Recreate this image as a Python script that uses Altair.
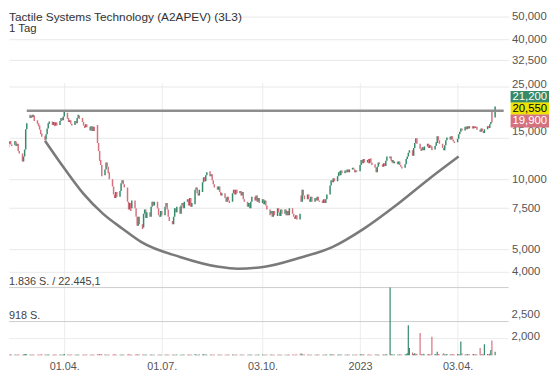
import altair as alt
import pandas as pd

title_text = "Tactile Systems Technology (A2APEV) (3L3)"
subtitle_text = "1 Tag"

# daily candles, business days 2022-02-07 .. 2023-05-08 (one row per week)
opens = [
    13000, 13700, 14200, 14600, 14100,
    14000, 14500, 13900, 14200, 13200,
    12900, 11900, 12500, 13400, 16400,
    18900, 18300, 18900, 18500, 18800,
    17900, 17400, 17000, 16300, 15700,
    15300, 14800, 15600, 16500, 17300,
    17700, 17100, 17600, 17000, 17500,
    17100, 17800, 18300, 17900, 18600,
    19300, 18300, 17600, 17900, 17300,
    17100, 17800, 17400, 18300, 18800,
    18300, 17600, 17000, 16700, 17200,
    16800, 16200, 16900, 16100, 16800,
    17100, 14300, 13200, 12100, 11500,
    10400, 11000, 11800, 11300, 10700,
    10000, 9300, 8600, 8300, 8800,
    8400, 8900, 9600, 9900, 9500,
    9200, 8000, 7400, 7900, 7500,
    8100, 7500, 6900, 6300, 6900,
    6400, 6200, 7100, 7400, 6800,
    7200, 6900, 7600, 8000, 7700,
    8000, 7500, 7000, 6900, 7300,
    7000, 7600, 7900, 7400, 6900,
    6600, 6400, 6900, 7500, 7200,
    7600, 7100, 7700, 7900, 7500,
    8000, 8200, 7700, 8300, 7600,
    7800, 9000, 9200, 8700, 8500,
    8800, 9700, 10200, 9800, 10400,
    10800, 10300, 10500, 9900, 9500,
    9300, 9000, 9300, 8800, 8500,
    8700, 8300, 8000, 8400, 8100,
    8000, 8700, 9000, 8600, 9000,
    8700, 8900, 8500, 8800, 8200,
    8000, 7600, 7900, 7500, 8000,
    8400, 8100, 8500, 8000, 8300,
    7900, 8200, 7800, 8100, 7700,
    7400, 7100, 7300, 6900, 7300,
    6950, 7500, 7200, 6950, 7400,
    7100, 7400, 7000, 7300, 7000,
    7500, 7100, 6900, 6750, 7000,
    6700, 8500, 8000, 9000, 8500,
    8200, 8600, 8200, 8000, 8400,
    8000, 8300, 8100, 8400, 8100,
    8100, 7900, 8200, 7900, 8200,
    8600, 9400, 9900, 9700, 10100,
    9800, 10300, 10800, 10400, 10900,
    10600, 10900, 10700, 11000, 10700,
    11000, 11200, 11000, 10700, 10900,
    10800, 11500, 12100, 11700, 12200,
    11800, 12200, 11700, 12300, 11800,
    11600, 11200, 10700, 11300, 11800,
    11600, 11300, 11700, 11400, 12000,
    12300, 12500, 11800, 12100, 11700,
    11900, 11600, 11900, 11500, 11300,
    11200, 11600, 12200, 12500, 13000,
    13300, 12600, 13600, 14300, 15000,
    14200, 13500, 13300, 13700, 13300,
    13800, 14200, 13600, 14000, 13800,
    13400, 13900, 14300, 15300, 14700,
    14200, 13600, 13300, 14000, 14700,
    15200, 14800, 15300, 14800, 14500,
    14400, 14900, 15600, 16000, 16500,
    16200, 16800, 16400, 16900, 16500,
    16900, 16500, 16900, 16600, 16800,
    16300, 16000, 16500, 16100, 15800,
    16400, 16900, 16600, 17200, 19700,
    18400,
]
closes = [
    13700, 14200, 14500, 14100, 13900,
    14600, 13900, 14200, 13200, 12900,
    11900, 12500, 13400, 16400, 17400,
    18300, 18800, 18400, 18900, 17800,
    17300, 16900, 16300, 15600, 15200,
    14700, 15600, 16500, 17400, 17700,
    17100, 17600, 16900, 17500, 17000,
    17800, 18300, 17900, 18600, 19700,
    18200, 17600, 17900, 17300, 17000,
    17800, 17400, 18300, 18900, 18200,
    17600, 17000, 16600, 17200, 16700,
    16200, 16900, 16100, 16800, 16100,
    14300, 13200, 12000, 11500, 10300,
    11000, 11800, 11300, 10600, 10000,
    9300, 8600, 8300, 8800, 8400,
    8900, 9600, 9900, 9500, 9200,
    8000, 7400, 7900, 7300, 8100,
    7500, 6900, 6300, 6900, 6400,
    6100, 7100, 7400, 6800, 7200,
    6900, 7600, 8000, 7700, 8000,
    7500, 7000, 6900, 7300, 7000,
    7600, 7900, 7400, 6900, 6600,
    6400, 6900, 7500, 7200, 7600,
    7100, 7700, 7900, 7500, 8000,
    8200, 7700, 8300, 7600, 7900,
    9000, 9200, 8700, 8500, 9000,
    9700, 10200, 9800, 10400, 10700,
    10300, 10500, 9900, 9500, 9200,
    9000, 9300, 8800, 8500, 8700,
    8300, 8000, 8400, 8100, 7900,
    8700, 9000, 8600, 9000, 8700,
    8900, 8500, 8800, 8200, 8000,
    7600, 7900, 7500, 8000, 8400,
    8100, 8500, 8000, 8300, 7900,
    8200, 7800, 8100, 7700, 7400,
    7000, 7300, 6900, 7300, 7000,
    7500, 7200, 6950, 7400, 7100,
    7400, 7000, 7300, 7000, 7500,
    7100, 6900, 6750, 7000, 6700,
    7100, 8000, 9000, 8500, 8200,
    8600, 8200, 8000, 8400, 8000,
    8300, 8100, 8400, 8100, 8000,
    7900, 8200, 7900, 8200, 8600,
    9400, 9900, 9700, 10100, 9800,
    10300, 10700, 10400, 10900, 10600,
    10900, 10700, 11000, 10700, 11000,
    11200, 11000, 10700, 10900, 10800,
    11500, 12100, 11700, 12200, 11800,
    12100, 11700, 12200, 11800, 11500,
    11200, 10700, 11300, 11800, 11600,
    11300, 11700, 11400, 12000, 12500,
    12500, 12000, 12100, 11700, 11900,
    11600, 11900, 11500, 11300, 11100,
    11600, 12200, 12500, 13000, 13300,
    12600, 13600, 14300, 15000, 14200,
    13500, 13200, 13700, 13300, 13800,
    14200, 13600, 14000, 13700, 13300,
    13900, 14400, 15300, 14700, 14200,
    13600, 13300, 14000, 14700, 15100,
    14800, 15300, 14800, 14500, 14300,
    14900, 15600, 16000, 16500, 16200,
    16800, 16400, 16900, 16500, 16900,
    16500, 16900, 16600, 16800, 16300,
    16000, 16500, 16100, 15800, 16400,
    16900, 16600, 17200, 17600, 17500,
    20550,
]
volumes = [
    25, 30, 20, 35, 25,   30, 20, 25, 30, 20,   25, 30, 35, 40, 30,
    30, 25, 30, 20, 25,   20, 30, 25, 30, 35,   30, 25, 20, 30, 25,
    25, 20, 30, 25, 20,   30, 25, 20, 30, 40,   30, 25, 20, 25, 30,
    20, 25, 30, 25, 20,   25, 30, 25, 20, 30,   20, 25, 30, 20, 25,
    35, 30, 40, 30, 35,   30, 25, 20, 30, 25,   25, 30, 35, 25, 20,
    20, 25, 30, 20, 25,   30, 35, 25, 30, 20,   25, 30, 35, 25, 30,
    30, 25, 20, 30, 25,   20, 30, 25, 20, 25,   25, 20, 30, 25, 20,
    20, 25, 30, 20, 25,   30, 25, 20, 25, 30,   25, 20, 25, 30, 20,
    20, 30, 25, 20, 25,   35, 30, 25, 20, 30,   30, 35, 25, 30, 25,
    25, 30, 20, 25, 30,   20, 25, 30, 20, 25,   25, 20, 25, 30, 20,
    30, 25, 20, 25, 30,   25, 30, 25, 20, 25,   20, 25, 30, 25, 20,
    25, 20, 25, 30, 25,   30, 25, 20, 25, 30,   25, 30, 25, 20, 25,
    20, 25, 30, 25, 20,   25, 20, 25, 30, 25,   30, 25, 20, 25, 30,
    30, 60, 35, 25, 30,   25, 30, 25, 20, 25,   20, 25, 30, 25, 20,
    25, 20, 25, 30, 25,   30, 35, 25, 30, 25,   25, 30, 25, 30, 25,
    20, 25, 30, 25, 20,   20, 25, 20, 25, 30,   30, 35, 25, 30, 25,
    25, 30, 25, 20, 25,   30, 25, 30, 25, 20,   25, 30, 25, 35, 30,
    1836, 40, 30, 25, 30, 30, 25, 35, 30, 25,   30, 40, 60, 816, 204,
    80, 40, 60, 30, 50,   612, 40, 30, 50, 30,  30, 40, 30, 30, 510,
    40, 30, 100, 40, 30,  30, 60, 30, 30, 40,   30, 30, 40, 30, 30,
    40, 30, 30, 383, 60,  30, 30, 40, 30, 30,   30, 40, 30, 30, 30,
    204, 30, 40, 30, 306, 40, 30, 50, 153, 408,
    100,
]

# drawn annotations: cup curve and resistance line
cup_dates = ["2022-03-14", "2022-04-01", "2022-04-19", "2022-05-07", "2022-05-25",
             "2022-06-12", "2022-07-18", "2022-08-23", "2022-09-10", "2022-10-05",
             "2022-11-06", "2022-12-07", "2023-01-06", "2023-02-04", "2023-03-07",
             "2023-04-04"]
cup_values = [14630, 11130, 8640, 7110, 6140, 5360, 4630, 4200, 4120, 4200,
              4580, 5100, 6140, 7680, 10000, 12520]
line_dates = ["2022-02-25", "2023-05-16"]
line_values = [19700, 19700]

price_ticks = [4000, 5000, 7500, 10000, 15000, 25000, 32500, 40000, 50000]
price_boxes = [21200, 20550, 19900]
box_labels = ["21,200", "20,550", "19,900"]
volume_levels = [1836, 918]
volume_notes = ["1.836 S. / 22.445,1", "918 S."]
volume_axis_labels = ["2,500", "2,000"]
volume_axis_pos = [1096, 510]

GREEN = "#348a69"
PINK = "#d6717f"
YELLOW = "#efe300"
FONT = "Liberation Sans"

W = 507
H = 349

dates = pd.bdate_range("2022-02-07", "2023-05-08").strftime("%Y-%m-%d").tolist()
n = min(len(dates), len(opens), len(closes), len(volumes))
df = pd.DataFrame({"date": dates[:n], "open": opens[:n], "close": closes[:n],
                   "volume": volumes[:n]})
cup_df = pd.DataFrame({"date": cup_dates, "value": cup_values})
line_df = pd.DataFrame({"date": line_dates, "value": line_values})

xscale = alt.Scale(type="utc",
                   domain=[alt.DateTime(year=2022, month=2, date=13, utc=True),
                           alt.DateTime(year=2023, month=5, date=16, utc=True)])
pscale = alt.Scale(type="log", domain=[3520, 52500], range=[277, 0], nice=False)
vscale = alt.Scale(type="linear", domain=[0, 1836], range=[H, 280], nice=False, zero=True)

xaxis = alt.Axis(
    values=[alt.DateTime(year=2022, month=4, date=1, utc=True),
            alt.DateTime(year=2022, month=7, date=1, utc=True),
            alt.DateTime(year=2022, month=10, date=3, utc=True),
            alt.DateTime(year=2023, month=1, date=2, utc=True),
            alt.DateTime(year=2023, month=4, date=3, utc=True)],
    labelExpr="utcFormat(datum.value, '%m') == '01' ? utcFormat(datum.value, '%Y') : utcFormat(datum.value, '%d.%m.')",
    title=None, ticks=False, domain=False, labelPadding=5, labelFontSize=11,
    labelColor="#555555", labelFont=FONT, gridColor="#ececec", labelFlush=False,
    labelOverlap=False,
)
paxis = alt.Axis(
    orient="right", values=price_ticks, format=",", title=None, ticks=False,
    domain=False, labelPadding=3, labelFontSize=11.5, labelColor="#555555",
    labelFont=FONT, gridColor="#e8e8e8", labelOverlap=False, labelAlign="left",
    labelOffset={"condition": [{"test": "datum.value == 15000", "value": -7},
                               {"test": "datum.value == 25000", "value": -2}],
                 "value": 0},
)

x_enc = alt.X("date:T", scale=xscale, axis=xaxis)
color_cond = alt.condition("datum.close >= datum.open", alt.value(GREEN), alt.value(PINK))

candles = alt.Chart(df).mark_bar(width=1.5, clip=True).encode(
    x=x_enc,
    y=alt.Y("open:Q", scale=pscale, axis=paxis),
    y2="close:Q",
    color=color_cond,
)

vol_rules = alt.Chart(pd.DataFrame({"v": volume_levels})).mark_rule(
    color="#cccccc", strokeWidth=1
).encode(y=alt.Y("v:Q", scale=vscale, axis=None))
vol_grid = alt.Chart(pd.DataFrame({"v": [459]})).mark_rule(
    color="#ececec", strokeWidth=1
).encode(y=alt.Y("v:Q", scale=vscale, axis=None))
vol_notes = alt.Chart(pd.DataFrame({"v": volume_levels, "t": volume_notes})).mark_text(
    align="left", baseline="bottom", dy=-1, fontSize=11, font=FONT, color="#444444"
).encode(x=alt.value(0), y=alt.Y("v:Q", scale=vscale, axis=None), text="t:N")
vol_axis = alt.Chart(pd.DataFrame({"v": volume_axis_pos, "t": volume_axis_labels})).mark_text(
    align="left", baseline="middle", fontSize=11.5, font=FONT, color="#555555"
).encode(x=alt.value(W + 3), y=alt.Y("v:Q", scale=vscale, axis=None), text="t:N")

vol_bars = alt.Chart(df).mark_bar(width=1.2, clip=True).encode(
    x=x_enc,
    y=alt.Y("volume:Q", scale=vscale, axis=None),
    y2=alt.datum(0),
    color=color_cond,
)

cup = alt.Chart(cup_df).mark_line(
    interpolate="monotone", color="#7a7a7a", strokeWidth=2.6, clip=True
).encode(x=x_enc, y=alt.Y("value:Q", scale=pscale, axis=None))

resist = alt.Chart(line_df).mark_line(color="#8e8e8e", strokeWidth=2.6, clip=True).encode(
    x=x_enc, y=alt.Y("value:Q", scale=pscale, axis=None)
)

titles = alt.layer(
    alt.Chart(pd.DataFrame({"t": [title_text]})).mark_text(
        align="left", baseline="top", fontSize=12, font=FONT, color="#333333"
    ).encode(x=alt.value(0), y=alt.value(0), text="t:N"),
    alt.Chart(pd.DataFrame({"t": [subtitle_text]})).mark_text(
        align="left", baseline="top", fontSize=11.5, font=FONT, color="#333333"
    ).encode(x=alt.value(0), y=alt.value(12), text="t:N"),
)

box_specs = [(GREEN, "white", -12.5, -0.5), (YELLOW, "black", -4.0, 8.5), (PINK, "white", 5.0, 18.0)]
box_layers = []
for val, lab, (bg, fg, o1, o2) in zip(price_boxes, box_labels, box_specs):
    bdf = pd.DataFrame({"v": [val], "t": [lab]})
    box_layers.append(
        alt.Chart(bdf).mark_rect(color=bg, yOffset=o1, y2Offset=o2).encode(
            x=alt.value(W + 2), x2=alt.value(W + 41),
            y=alt.Y("v:Q", scale=pscale, axis=None), y2="v:Q",
        )
    )
    box_layers.append(
        alt.Chart(bdf).mark_text(
            color=fg, fontSize=11.5, font=FONT, align="center", baseline="middle",
            dy=(o1 + o2) / 2,
        ).encode(
            x=alt.value(W + 21.5), y=alt.Y("v:Q", scale=pscale, axis=None), text="t:N"
        )
    )

chart = alt.layer(
    candles, vol_grid, vol_rules, vol_bars, resist, cup, vol_notes, vol_axis,
    titles, *box_layers,
).resolve_scale(y="independent").properties(
    width=W, height=H, padding={"left": 0, "top": 0, "right": 2, "bottom": 0},
    background="white",
).configure_view(stroke=None)

chart.save("out.html", embed_options={"renderer": "svg", "actions": False})
